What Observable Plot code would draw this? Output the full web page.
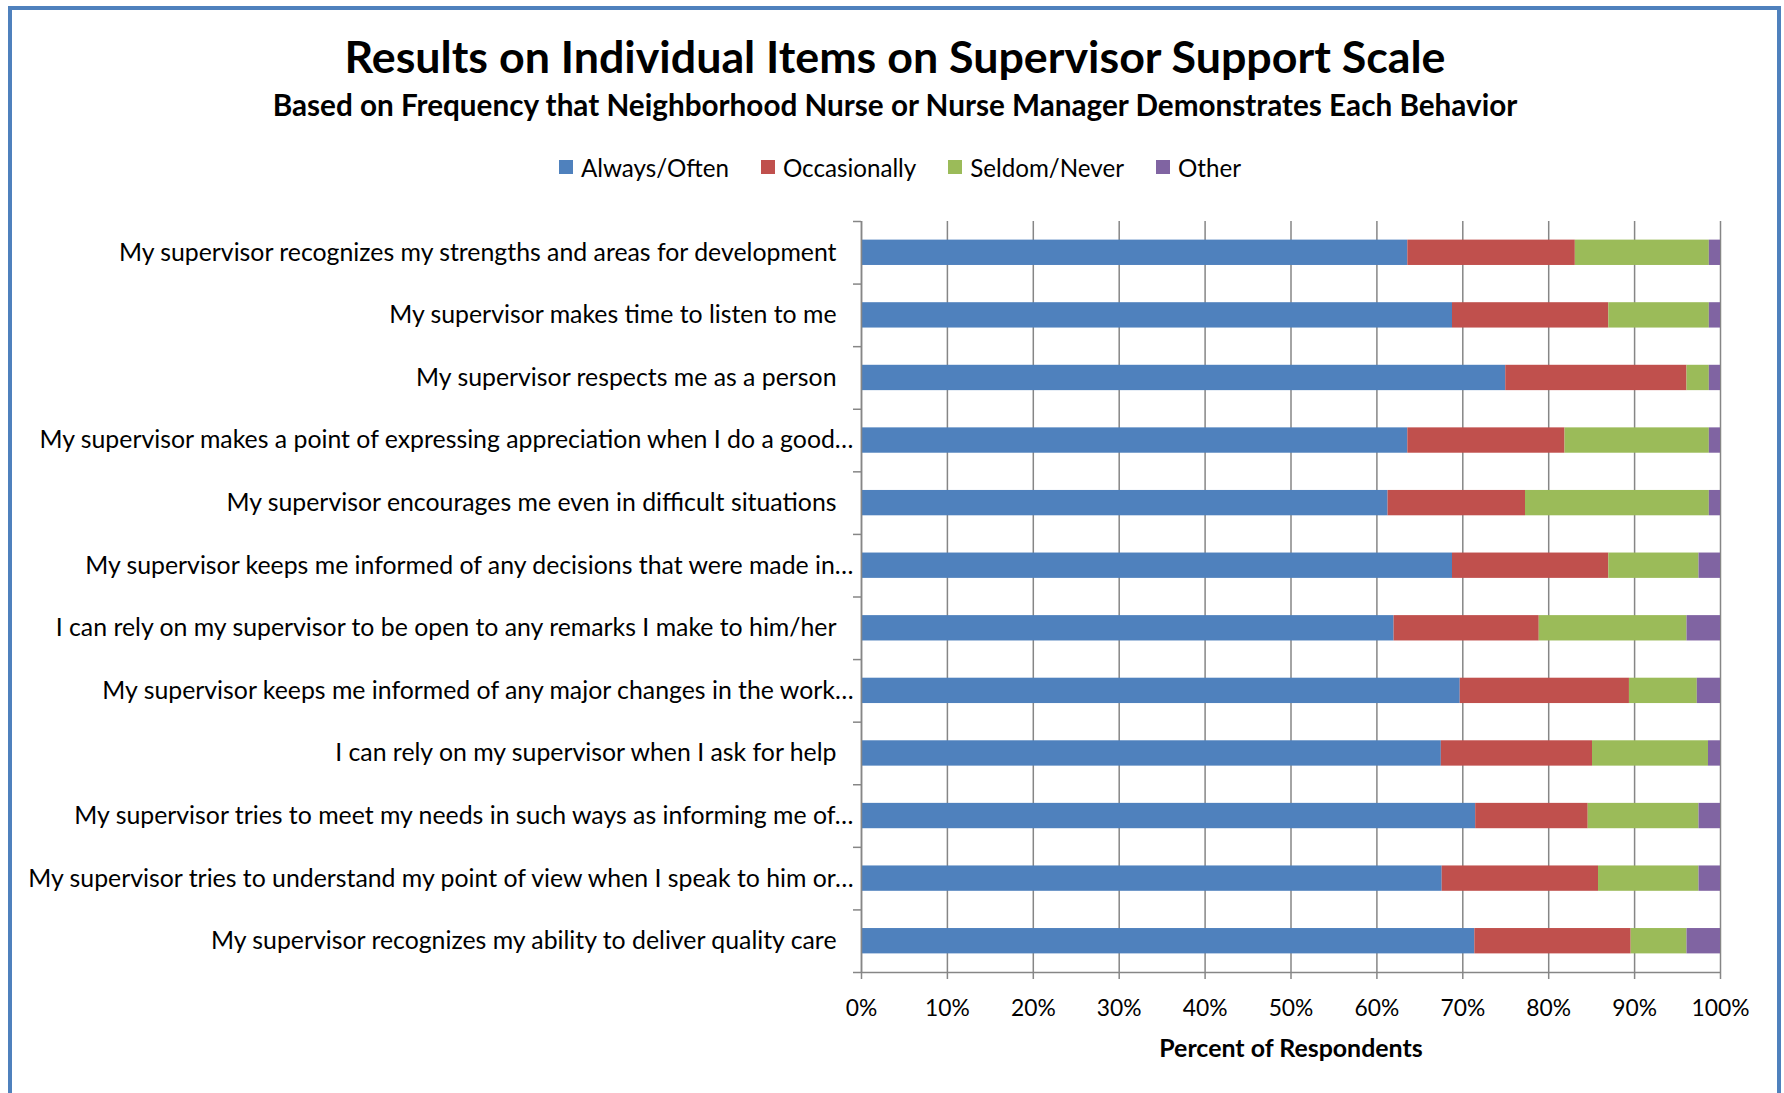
<!DOCTYPE html>
<html>
<head>
<meta charset="utf-8">
<script src="https://cdn.jsdelivr.net/npm/d3@7"></script>
<script src="https://cdn.jsdelivr.net/npm/@observablehq/plot@0.6"></script>
<style>
  html, body { margin: 0; padding: 0; background: #fff; width: 1784px; height: 1093px; overflow: hidden; }
  body { position: relative; font-family: Lato, "Open Sans", sans-serif; color: #000; }
  #frame { position: absolute; left: 8px; top: 6px; width: 1765px; height: 1200px; border: 4px solid #4F81BD; }
  .hdr { position: absolute; left: 0; width: 1790px; text-align: center; font-weight: bold; white-space: nowrap; }
  #legend { position: absolute; left: 0; width: 1800px; top: 152px; height: 30px; display: flex; justify-content: center; align-items: center; }
  .item { display: flex; align-items: center; margin: 0 16px; }
  .sw { width: 14px; height: 14px; margin-right: 8px; }
  #chart { position: absolute; left: 0; top: 190px; }
</style>
</head>
<body>
<div id="frame"></div>
<div id="title" class="hdr"></div>
<div id="subtitle" class="hdr"></div>
<div id="legend"></div>
<div id="chart"></div>
<script>
const titleText = "Results on Individual Items on Supervisor Support Scale";
const subtitleText = "Based on Frequency that Neighborhood Nurse or Nurse Manager Demonstrates Each Behavior";
const xAxisTitle = "Percent of Respondents";

const items = [
  "My supervisor recognizes my strengths and areas for development",
  "My supervisor makes time to listen to me",
  "My supervisor respects me as a person",
  "My supervisor makes a point of expressing appreciation when I do a good…",
  "My supervisor encourages me even in difficult situations",
  "My supervisor keeps me informed of any decisions that were made in…",
  "I can rely on my supervisor to be open to any remarks I make to him/her",
  "My supervisor keeps me informed of any major changes in the work…",
  "I can rely on my supervisor when I ask for help",
  "My supervisor tries to meet my needs in such ways as informing me of…",
  "My supervisor tries to understand my point of view when I speak to him or…",
  "My supervisor recognizes my ability to deliver quality care"
];
const series = ["Always/Often", "Occasionally", "Seldom/Never", "Other"];
const seriesColors = ["#4F81BD", "#C0504D", "#9BBB59", "#8064A2"];

const alwaysOften  = [63.6, 68.8, 75.0, 63.6, 61.3, 68.8, 62.0, 69.7, 67.5, 71.5, 67.6, 71.4];
const occasionally = [19.5, 18.2, 21.1, 18.3, 16.0, 18.2, 16.9, 19.7, 17.6, 13.1, 18.2, 18.2];
const seldomNever  = [15.6, 11.7,  2.6, 16.8, 21.4, 10.5, 17.2,  7.9, 13.5, 12.9, 11.7,  6.5];
const other        = [ 1.3,  1.3,  1.3,  1.3,  1.3,  2.5,  3.9,  2.7,  1.4,  2.5,  2.5,  3.9];

const xTicks = [0, 10, 20, 30, 40, 50, 60, 70, 80, 90, 100];

// ---- build table ----
const valuesBySeries = [alwaysOften, occasionally, seldomNever, other];
const table = [];
items.forEach((item, i) => {
  series.forEach((s, j) => table.push({item, series: s, value: valuesBySeries[j][i]}));
});

// ---- font fitting ----
const FONT = "Lato";
const ctx = document.createElement("canvas").getContext("2d");
function fit(text, weight, target) {
  ctx.font = `${weight} 100px ${FONT}`;
  return +(100 * target / ctx.measureText(text).width).toFixed(2);
}
const titleSize = fit(titleText, "bold", 1102);
const subSize = fit(subtitleText, "bold", 1247);
const labelSize = fit(items[0], "normal", 720);
const legendSize = fit("Always/Often", "normal", 148);
const tickSize = fit("100%", "normal", 58);
const axTitleSize = fit(xAxisTitle, "bold", 264);

const t = document.getElementById("title");
t.textContent = titleText;
Object.assign(t.style, {fontSize: titleSize + "px", lineHeight: "50px", top: (56 - 25) + "px"});
const st = document.getElementById("subtitle");
st.textContent = subtitleText;
Object.assign(st.style, {fontSize: subSize + "px", lineHeight: "36px", top: (105 - 18) + "px"});

// ---- chart ----
const W = 1784, H = 880;
const mL = 861, mR = 64, mT = 31, mB = 98;
const step = (H - mT - mB) / items.length;
const gray = "#868686";
const truncated = items.filter(d => d.endsWith("…"));
const full = items.filter(d => !d.endsWith("…"));

const plot = Plot.plot({
  width: W, height: H,
  marginLeft: mL, marginRight: mR, marginTop: mT, marginBottom: mB,
  style: {fontFamily: FONT, fontSize: tickSize + "px", color: "#000", background: "transparent", overflow: "visible"},
  x: {domain: [0, 100], label: null},
  y: {domain: items, paddingInner: 0.595, paddingOuter: 0.2975, round: false, label: null, axis: null},
  color: {domain: series, range: seriesColors},
  marks: [
    Plot.gridX({ticks: xTicks, stroke: gray, strokeOpacity: 1, strokeWidth: 1.5}),
    Plot.barX(table, {x: "value", y: "item", fill: "series"}),
    Plot.ruleX([0], {stroke: gray, strokeWidth: 1.5}),
    Plot.ruleY([items[items.length - 1]], {dy: step / 2, stroke: gray, strokeWidth: 1.5}),
    Plot.axisX({ticks: xTicks, tickFormat: d => d + "%", tickSize: 7, tickPadding: 20, stroke: gray, strokeWidth: 1.5, label: null, fontSize: tickSize}),
    Plot.axisY({ticks: items, tickSize: 8, tickFormat: () => "", dy: -step / 2, stroke: gray, strokeWidth: 1.5, label: null}),
    Plot.axisY({ticks: [items[items.length - 1]], tickSize: 8, tickFormat: () => "", dy: step / 2, stroke: gray, strokeWidth: 1.5, label: null}),
    Plot.text(full, {y: d => d, text: d => d, frameAnchor: "left", dx: -25, textAnchor: "end", fontSize: labelSize}),
    Plot.text(truncated, {y: d => d, text: d => d, frameAnchor: "left", dx: -8, textAnchor: "end", fontSize: labelSize}),
    Plot.text([xAxisTitle], {text: d => d, frameAnchor: "bottom", lineAnchor: "middle", dy: 77, fontWeight: "bold", fontSize: axTitleSize})
  ]
});
document.getElementById("chart").appendChild(plot);

// ---- legend ----
const color = plot.scale("color");
const lg = document.getElementById("legend");
lg.style.fontSize = legendSize + "px";
color.domain.forEach((s, i) => {
  const it = document.createElement("div");
  it.className = "item";
  const sw = document.createElement("div");
  sw.className = "sw";
  sw.style.background = color.range[i];
  const tx = document.createElement("span");
  tx.textContent = s;
  it.appendChild(sw); it.appendChild(tx);
  lg.appendChild(it);
});
</script>
</body>
</html>
